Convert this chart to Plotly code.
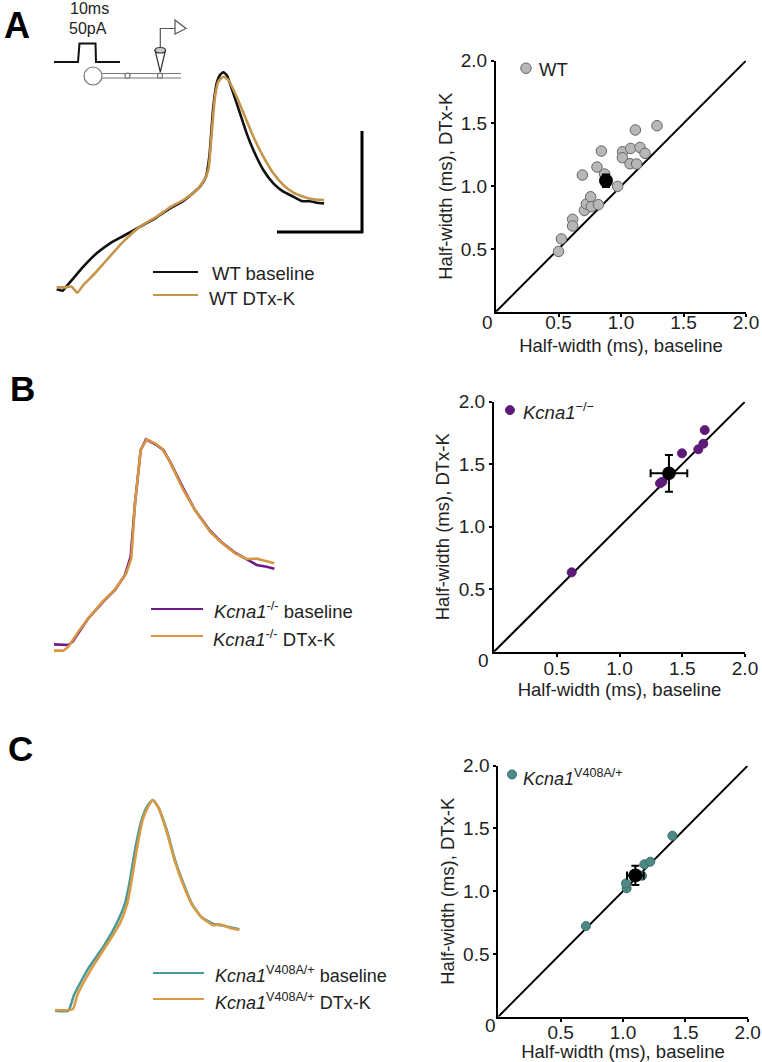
import plotly.graph_objects as go

W, H = 762, 1062
FONT = "Liberation Sans"
TXT = "#222222"

# ---------- Scatter data (half-width, ms) ----------
wt_base = [.50, .523, .613, .613, .691, .707, .723, .757, .763, .819, .808, .843, .869,
           .973, 1.013, 1.011, 1.077, 1.072, 1.125, 1.115, 1.152, 1.192, 1.288]
wt_dtx = [.48, .58, .736, .683, 1.089, .807, .858, .916, .837, .853, 1.153, 1.28, 1.097,
          .999, 1.275, 1.227, 1.301, 1.179, 1.177, 1.448, 1.309, 1.262, 1.482]
ko_base = [.619, 1.323, 1.341, 1.498, 1.628, 1.668, 1.679]
ko_dtx = [.635, 1.347, 1.36, 1.587, 1.619, 1.664, 1.773]
va_base = [.703, 1.029, 1.024, 1.171, 1.219, 1.152, 1.396]
va_dtx = [.722, 1.023, 1.062, 1.214, 1.235, 1.123, 1.442]
means_x = [.88, 1.394, 1.099]
means_y = [1.044, 1.427, 1.126]
err_x = [.03, .146, .067]
err_y = [.05, .147, .076]
key_x = [.24, .127, .11]
key_y = [1.94, 1.933, 1.93]
axis_ticks = [.5, 1.0, 1.5, 2.0]
axis_tick_labels = ["0.5", "1.0", "1.5", "2.0"]
unity = [0, 2]

# ---------- Action potential waveforms (arbitrary units; depth axis points down) ----------
a_base_t = [170, 188, 200, 220, 250, 290, 330, 370, 420, 470, 510, 550, 600, 618, 628, 640, 650, 660,
            670, 680, 700, 720, 740, 760, 790, 820, 850, 880, 905, 930, 950, 972]
a_base_v = [868, 872, 858, 835, 800, 760, 730, 708, 680, 652, 625, 603, 560, 530, 470, 320, 250, 225,
            217, 225, 280, 340, 400, 450, 510, 550, 575, 590, 603, 604, 608, 610]
a_dtx_t = [170, 195, 215, 232, 250, 280, 320, 370, 420, 470, 510, 550, 590, 610, 625, 635, 645, 655,
           670, 685, 710, 735, 760, 790, 820, 850, 880, 910, 940, 972]
a_dtx_v = [862, 862, 860, 878, 855, 825, 780, 725, 680, 650, 622, 600, 570, 545, 510, 400, 290, 245,
           230, 240, 290, 350, 410, 470, 520, 555, 578, 590, 598, 600]
b_base_t = [162, 205, 218, 235, 265, 310, 345, 375, 392, 405, 422, 438, 465, 490, 510, 550, 585, 630,
            665, 705, 740, 770, 800, 823]
b_base_v = [823, 825, 815, 790, 745, 695, 660, 615, 560, 400, 240, 208, 222, 240, 275, 355, 420, 482,
            517, 548, 568, 585, 590, 596]
b_dtx_t = [162, 190, 205, 235, 265, 310, 345, 378, 394, 405, 422, 440, 465, 485, 505, 550, 585, 630,
           665, 705, 740, 770, 800, 823]
b_dtx_v = [842, 842, 830, 785, 745, 693, 658, 612, 565, 400, 240, 208, 220, 235, 265, 360, 420, 485,
           518, 550, 567, 566, 574, 580]
c_base_t = [165, 205, 222, 265, 310, 350, 375, 390, 405, 425, 440, 458, 475, 500, 525, 550, 575, 605,
            640, 665, 690, 718]
c_base_v = [872, 872, 825, 745, 680, 610, 550, 480, 390, 300, 262, 240, 262, 330, 420, 490, 550, 592,
            612, 616, 622, 628]
c_dtx_t = [165, 218, 232, 275, 320, 360, 382, 395, 410, 428, 442, 458, 475, 500, 525, 550, 575, 605,
           640, 660, 690, 718]
c_dtx_v = [870, 868, 825, 745, 675, 610, 550, 480, 390, 300, 265, 240, 262, 335, 425, 495, 552, 592,
           616, 613, 624, 630]


def px(x):
    return x / W


def py(y):
    return 1 - y / H


fig = go.Figure()
shapes, notes = [], []


def note(x, y, text, size=18.5, anchor="left", bold=False, color=TXT):
    t = f"<b>{text}</b>" if bold else text
    notes.append(dict(x=px(x), y=py(y), xref="paper", yref="paper", text=t, showarrow=False,
                      xanchor=anchor, yanchor="middle", font=dict(family=FONT, size=size, color=color)))


def seg(x0, y0, x1, y1, color="#000000", width=2):
    shapes.append(dict(type="line", xref="paper", yref="paper", x0=px(x0), y0=py(y0), x1=px(x1), y1=py(y1),
                       line=dict(color=color, width=width)))


def poly(pts, color="#000000", width=2, fill=None):
    path = "M" + " L".join(f"{px(a):.5f},{py(b):.5f}" for a, b in pts)
    if fill:
        path += " Z"
    shapes.append(dict(type="path", xref="paper", yref="paper", path=path,
                       line=dict(color=color, width=width), fillcolor=fill or "rgba(0,0,0,0)"))


def circle(cx, cy, r, color="#777777", width=1.2, fill="#ffffff"):
    shapes.append(dict(type="circle", xref="paper", yref="paper",
                       x0=px(cx - r), x1=px(cx + r), y0=py(cy + r), y1=py(cy - r),
                       line=dict(color=color, width=width), fillcolor=fill))


layout_axes = {}

# ---------- Scatter panels ----------
panels = [
    dict(box=(496, 746, 311.7, 60.7), xs=wt_base, ys=wt_dtx, fill="#b7b7b7", edge="#666666", size=10.5,
         mean=14, key="WT", keytext_x=537, keytext_y=69, lab=-11, xstand=8, ystand=3, zero=(487, 322)),
    dict(box=(494, 745, 651.7, 401.7), xs=ko_base, ys=ko_dtx, fill="#5e1a78", edge="#5e1a78", size=9,
         mean=13.5, key="<i>Kcna1</i><sup>−/−</sup>", keytext_x=520.5, keytext_y=411, lab=-5, xstand=6, ystand=4,
         zero=(483, 660)),
    dict(box=(498.3, 747.7, 1016.7, 765.7), xs=va_base, ys=va_dtx, fill="#4d8a86", edge="#3a6e6b", size=9,
         mean=14, key="<i>Kcna1</i><sup>V408A/+</sup>", keytext_x=521, keytext_y=777, lab=-6, xstand=1, ystand=4,
         zero=(490, 1025)),
]
for i, p in enumerate(panels):
    n = i * 2 + 1
    ax = "" if n == 1 else str(n)
    ay = str(n + 1)
    xa, ya = "x" + ax, "y" + ay
    x0, x1, y0, y1 = p["box"]
    common = dict(range=[0, 2], tickmode="array", tickvals=axis_ticks, ticktext=axis_tick_labels,
                  showline=True, linecolor="#000000", linewidth=2, ticks="outside", ticklen=3, tickwidth=2,
                  tickcolor="#000000", showgrid=False, zeroline=False,
                  tickfont=dict(family=FONT, size=19, color=TXT), automargin=False)
    layout_axes["xaxis" + ax] = dict(common, domain=[px(x0), px(x1)], anchor=ya, ticklabelstandoff=p["lab"],
                                     title=dict(text="Half-width (ms), baseline", standoff=p["xstand"],
                                                font=dict(family=FONT, size=18.5, color=TXT)))
    layout_axes["yaxis" + ay] = dict(common, domain=[py(y0), py(y1)], anchor=xa,
                                     title=dict(text="Half-width (ms), DTx-K", standoff=p["ystand"],
                                                font=dict(family=FONT, size=18.5, color=TXT)))
    fig.add_trace(go.Scatter(x=unity, y=unity, mode="lines", xaxis=xa, yaxis="y" + ay,
                             line=dict(color="#000000", width=2), cliponaxis=False))
    fig.add_trace(go.Scatter(x=p["xs"] + [key_x[i]], y=p["ys"] + [key_y[i]], mode="markers", xaxis=xa,
                             yaxis="y" + ay, cliponaxis=False,
                             marker=dict(size=p["size"], color=p["fill"], line=dict(color=p["edge"], width=1))))
    fig.add_trace(go.Scatter(x=[means_x[i]], y=[means_y[i]], mode="markers", xaxis=xa, yaxis="y" + ay,
                             cliponaxis=False, marker=dict(size=p["mean"], color="#000000"),
                             error_x=dict(type="data", array=[err_x[i]], color="#000000", thickness=2, width=4),
                             error_y=dict(type="data", array=[err_y[i]], color="#000000", thickness=2, width=4)))
    note(p["zero"][0], p["zero"][1], "0", size=19, anchor="center")
    note(p["keytext_x"], p["keytext_y"], p["key"], size=18 if i == 2 else 18.5)

# ---------- Waveform panels ----------
waves = [
    dict(box=(0, 380, 320, 0), yr=[960, 0], base=(a_base_t, a_base_v, "#111111"), dtx=(a_dtx_t, a_dtx_v, "#c4954a"),
         shape="spline"),
    dict(box=(0, 380, 670, 370), yr=[900, 0], base=(b_base_t, b_base_v, "#6a1b8a"), dtx=(b_dtx_t, b_dtx_v, "#d79742"),
         shape="linear"),
    dict(box=(0, 400, 1040, 720), yr=[960, 0], base=(c_base_t, c_base_v, "#4a9a98"), dtx=(c_dtx_t, c_dtx_v, "#d99a45"),
         shape="spline"),
]
for j, w in enumerate(waves):
    n = 7 + j * 2
    xa, ya = f"x{n}", f"y{n + 1}"
    x0, x1, y0, y1 = w["box"]
    hidden = dict(visible=False, showgrid=False, zeroline=False)
    layout_axes[f"xaxis{n}"] = dict(hidden, domain=[px(x0), px(x1)], range=[0, (x1 - x0) * 3], anchor=ya)
    layout_axes[f"yaxis{n + 1}"] = dict(hidden, domain=[py(y0), py(y1)], range=w["yr"], anchor=xa)
    for t, v, c in (w["base"], w["dtx"]):
        line = dict(color=c, width=2.6, shape=w["shape"])
        if w["shape"] == "spline":
            line["smoothing"] = 0.5
        fig.add_trace(go.Scatter(x=t, y=v, mode="lines", xaxis=xa, yaxis=ya, line=line))

# ---------- Legends of the waveforms ----------
seg(153, 272, 198, 272, "#111111", 1.8)
seg(153, 295, 198, 295, "#c4954a", 2)
note(210, 273, "WT baseline")
note(207, 298, "WT DTx-K")
seg(151, 609, 203, 609, "#6a1b8a", 1.8)
seg(151, 636, 203, 636, "#d79742", 2)
note(212, 610, "<i>Kcna1</i><sup>-/-</sup> baseline")
note(211, 638, "<i>Kcna1</i><sup>-/-</sup> DTx-K")
seg(153, 973, 204, 973, "#4a9a98", 2)
seg(153, 999, 204, 999, "#d99a45", 2)
note(213, 974, "<i>Kcna1</i><sup>V408A/+</sup> baseline", size=18)
note(213, 1001, "<i>Kcna1</i><sup>V408A/+</sup> DTx-K", size=18)

# ---------- Scale bar ----------
seg(362, 131, 362, 233, "#000000", 3)
seg(277, 232, 363, 232, "#000000", 3)

# ---------- Stimulus and recording schematic ----------
note(89, 9, "10ms", size=16, anchor="center")
note(88, 28, "50pA", size=16, anchor="center")
poly([(54, 62), (78, 62), (79.5, 43.5), (95.5, 43.5), (96, 62), (120, 62)], "#111111", 2)
seg(100, 73.5, 181, 73.5, "#777777", 1.2)
seg(100, 78, 181, 78, "#777777", 1.2)
circle(93, 76, 9)
circle(127.5, 75.7, 2.5)
circle(160, 75.7, 2.5)
poly([(155, 50), (165.5, 50), (160.3, 72)], "#333333", 1.2, fill="#ffffff")
shapes.append(dict(type="circle", xref="paper", yref="paper", x0=px(155), x1=px(165.5), y0=py(53), y1=py(47.5),
                   line=dict(color="#333333", width=1.2), fillcolor="#cccccc"))
poly([(160.3, 48), (160.3, 28.5), (175, 28.5)], "#555555", 1.2)
poly([(175, 20), (186, 28.5), (175, 34)], "#555555", 1.2, fill="#ffffff")

# ---------- Panel letters ----------
note(2, 25, "A", size=36, bold=True, color="#000000")
note(8, 389, "B", size=35, bold=True, color="#000000")
note(6, 748, "C", size=35, bold=True, color="#000000")

fig.update_layout(width=W, height=H, margin=dict(l=0, r=0, t=0, b=0), paper_bgcolor="#ffffff",
                  plot_bgcolor="#ffffff", showlegend=False, shapes=shapes, annotations=notes,
                  hovermode=False, **layout_axes)
fig.write_html("out.html", config=dict(displayModeBar=False),
               post_script="document.body.style.margin='0';document.body.style.overflow='hidden';")
